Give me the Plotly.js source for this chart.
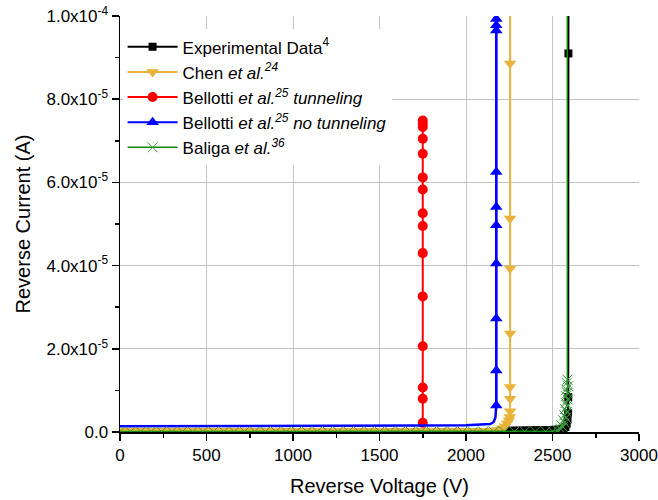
<!DOCTYPE html>
<html>
<head>
<meta charset="utf-8">
<script src="https://cdn.plot.ly/plotly-3.0.1.min.js"></script>
<style>
  html, body { margin: 0; padding: 0; background: #fff; }
  #chart { width: 658px; height: 500px; }
</style>
</head>
<body>
<div id="chart"></div>
<script>
// Reverse I-V characteristics: measured breakdown vs. simulated models.
// Voltages in V, currents in microamps (converted to A when plotted).

const expV = [2250, 2270, 2290, 2310, 2330, 2350, 2370, 2390, 2410, 2430, 2450, 2470, 2490, 2510, 2530, 2550,
              2565, 2575, 2582, 2587, 2590, 2591, 2592, 2593];
const expI = [0.30, 0.30, 0.32, 0.32, 0.34, 0.35, 0.36, 0.38, 0.40, 0.42, 0.44, 0.46, 0.48, 0.52, 0.56, 0.62,
              0.8, 1.2, 2.0, 3.0, 4.5, 8.4, 91.0, 150.0];

const chenV = [0, 50, 100, 150, 200, 250, 300, 350, 400, 450, 500, 550, 600, 650, 700, 750, 800, 850, 900, 950,
               1000, 1050, 1100, 1150, 1200, 1250, 1300, 1350, 1400, 1450, 1500, 1550, 1600, 1650, 1700, 1750,
               1800, 1850, 1900, 1950, 2000, 2050, 2100, 2150, 2180, 2200, 2210, 2225, 2238, 2248, 2253,
               2255, 2255, 2255, 2255, 2255, 2255, 2255, 2255];
const chenI = [0.3, 0.3, 0.3, 0.3, 0.3, 0.3, 0.3, 0.3, 0.3, 0.3, 0.3, 0.3, 0.3, 0.3, 0.3, 0.3, 0.3, 0.3, 0.3, 0.3,
               0.3, 0.3, 0.3, 0.3, 0.3, 0.3, 0.3, 0.3, 0.3, 0.3, 0.3, 0.3, 0.3, 0.3, 0.3, 0.3,
               0.3, 0.3, 0.3, 0.3, 0.3, 0.3, 0.3, 0.35, 0.4, 0.6, 0.9, 1.4, 2.1, 2.8, 3.6,
               5.0, 8.0, 10.8, 23.7, 39.3, 51.3, 88.6, 120.0];

const tunV = [1750, 1750, 1750, 1750, 1750, 1750, 1750, 1750, 1750, 1750, 1750, 1750, 1750, 1750, 1750];
const tunI = [2.2, 8.0, 10.7, 20.6, 32.6, 43.0, 49.5, 52.6, 58.3, 61.2, 66.9, 70.5, 73.3, 74.1, 74.9];

// no-tunneling model: leakage floor (no symbols) and avalanche branch (symbols)
const noTunBaseV = [0, 250, 500, 750, 1000, 1250, 1500, 1750, 2000, 2100, 2140, 2160, 2170];
const noTunBaseI = [1.4, 1.4, 1.45, 1.45, 1.5, 1.5, 1.55, 1.55, 1.6, 1.7, 1.9, 2.4, 3.5];
const noTunV = [2175, 2175, 2175, 2175, 2175, 2175, 2175, 2175, 2175, 2175, 2175];
const noTunI = [6.4, 14.8, 27.3, 40.5, 49.7, 54.1, 62.5, 96.5, 97.8, 99.3, 120.0];

const baligaV = [0, 60, 120, 180, 240, 300, 360, 420, 480, 540, 600, 660, 720, 780, 840, 900, 960, 1020, 1080,
                 1140, 1200, 1260, 1320, 1380, 1440, 1500, 1560, 1620, 1680, 1740, 1800, 1860, 1920, 1980, 2040,
                 2100, 2160, 2220, 2280, 2340, 2400, 2460,
                 2500, 2530, 2545, 2560, 2552, 2570, 2562, 2578, 2568, 2582, 2572, 2585, 2576, 2588, 2578, 2586,
                 2580, 2590, 2582, 2586, 2585];
const baligaI = [0.1, 0.1, 0.1, 0.1, 0.1, 0.1, 0.1, 0.1, 0.1, 0.1, 0.1, 0.1, 0.1, 0.1, 0.1, 0.1, 0.1, 0.1, 0.1,
                 0.1, 0.1, 0.1, 0.1, 0.1, 0.1, 0.1, 0.1, 0.1, 0.1, 0.1, 0.1, 0.1, 0.1, 0.1, 0.1,
                 0.1, 0.1, 0.1, 0.1, 0.12, 0.14, 0.16,
                 0.2, 0.4, 0.8, 1.2, 1.6, 2.2, 2.8, 3.4, 4.0, 4.8, 5.5, 6.3, 7.0, 7.8, 8.6, 9.4,
                 10.2, 11.0, 11.8, 12.6, 150.0];

const seriesNames = [
  'Experimental Data<sup>4</sup>',
  'Chen <i>et al.<sup>24</sup></i>',
  'Bellotti <i>et al.<sup>25</sup> tunneling</i>',
  'Bellotti <i>et al.<sup>25</sup> no tunneling</i>',
  'Baliga <i>et al.<sup>36</sup></i>'
];

const yTickVals = [0, 2e-5, 4e-5, 6e-5, 8e-5, 1e-4];
const yTickText = ['0.0', '2.0x10<sup>-5</sup>', '4.0x10<sup>-5</sup>', '6.0x10<sup>-5</sup>',
                   '8.0x10<sup>-5</sup>', '1.0x10<sup>-4</sup>'];
const xTickVals = [0, 500, 1000, 1500, 2000, 2500, 3000];

const toAmp = arr => arr.map(v => v * 1e-6);

const FONT = 'Liberation Sans, Arial, sans-serif';

const traces = [
  {
    x: expV, y: toAmp(expI), name: seriesNames[0], mode: 'lines+markers',
    line: { color: '#000000', width: 2 },
    marker: { symbol: 'square', size: 8, color: '#000000' }
  },
  {
    x: chenV, y: toAmp(chenI), name: seriesNames[1], mode: 'lines+markers',
    line: { color: '#e9b23a', width: 2 },
    marker: { symbol: 'triangle-down', size: 11, color: '#e9b23a' }
  },
  {
    x: tunV, y: toAmp(tunI), name: seriesNames[2], mode: 'lines+markers',
    line: { color: '#ff0000', width: 2 },
    marker: { symbol: 'circle', size: 10, color: '#ff0000' }
  },
  {
    x: noTunBaseV.concat(noTunV), y: toAmp(noTunBaseI.concat(noTunI)), mode: 'lines',
    line: { color: '#0000ff', width: 2.5 }, showlegend: false, hoverinfo: 'skip'
  },
  {
    x: noTunV, y: toAmp(noTunI), name: seriesNames[3], mode: 'lines+markers',
    line: { color: '#0000ff', width: 2 },
    marker: { symbol: 'triangle-up', size: 11, color: '#0000ff' }
  },
  {
    x: baligaV, y: toAmp(baligaI), name: seriesNames[4], mode: 'lines+markers',
    line: { color: '#128a12', width: 1.5 },
    marker: { symbol: 'x-thin-open', size: 10, color: '#3a9c3a', line: { width: 1, color: '#3a9c3a' } }
  }
];

const layout = {
  width: 658, height: 500,
  margin: { l: 120, r: 19, t: 16, b: 68, pad: 0 },
  paper_bgcolor: '#ffffff', plot_bgcolor: '#ffffff',
  font: { family: FONT, color: '#000000', size: 17 },
  showlegend: true,
  legend: {
    x: 0.005, y: 0.968, xanchor: 'left', yanchor: 'top',
    bgcolor: '#ffffff', borderwidth: 0,
    font: { family: FONT, size: 17, color: '#000000' },
    itemwidth: 50, tracegroupgap: 0
  },
  xaxis: {
    range: [0, 3000], tickmode: 'array', tickvals: xTickVals,
    ticks: 'outside', ticklen: 7, tickwidth: 1.5, tickcolor: '#000000',
    showline: true, linecolor: '#000000', linewidth: 1.5,
    showgrid: true, gridcolor: '#c4c4c4', gridwidth: 1, zeroline: false,
    tickfont: { family: FONT, size: 17, color: '#000000' },
    minor: { tickmode: 'linear', tick0: 0, dtick: 250, ticks: 'outside', ticklen: 4,
             tickwidth: 1.5, tickcolor: '#000000', showgrid: false },
    title: { text: 'Reverse Voltage (V)', font: { family: FONT, size: 20, color: '#000000' }, standoff: 15 }
  },
  yaxis: {
    range: [0, 1e-4], tickmode: 'array', tickvals: yTickVals, ticktext: yTickText,
    ticks: 'outside', ticklen: 7, tickwidth: 1.5, tickcolor: '#000000',
    showline: true, linecolor: '#000000', linewidth: 1.5,
    showgrid: true, gridcolor: '#c4c4c4', gridwidth: 1, zeroline: false,
    tickfont: { family: FONT, size: 17, color: '#000000' },
    minor: { tickmode: 'linear', tick0: 0, dtick: 1e-5, ticks: 'outside', ticklen: 4,
             tickwidth: 1.5, tickcolor: '#000000', showgrid: false },
    title: { text: 'Reverse Current (A)', font: { family: FONT, size: 20, color: '#000000' }, standoff: 10 }
  }
};

Plotly.newPlot('chart', traces, layout, { displayModeBar: false, staticPlot: true });
</script>
</body>
</html>
